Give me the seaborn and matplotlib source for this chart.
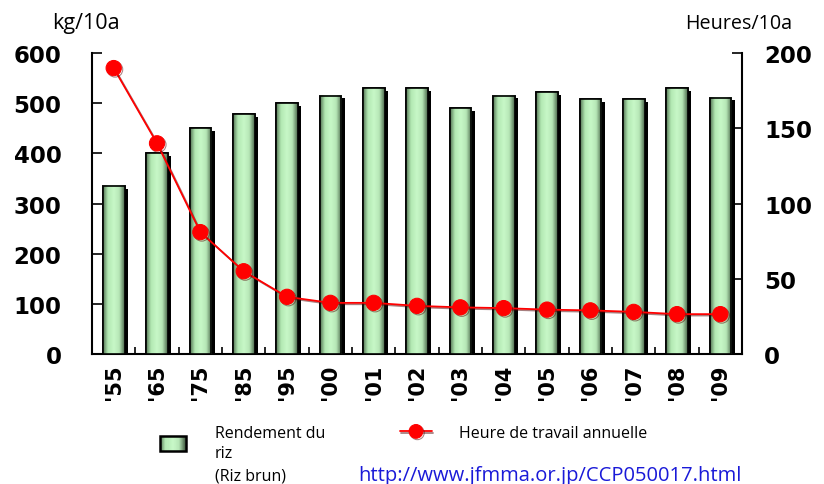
import numpy as np
import pandas as pd
import matplotlib
matplotlib.use("Agg")
import matplotlib.pyplot as plt
import seaborn as sns
import matplotlib.patheffects as pe
from matplotlib.patches import Rectangle
from matplotlib.colors import LinearSegmentedColormap
from matplotlib.legend_handler import HandlerBase

# Rice yield (kg/10a) and annual working hours (hours/10a)
years = ["'55", "'65", "'75", "'85", "'95", "'00", "'01", "'02",
         "'03", "'04", "'05", "'06", "'07", "'08", "'09"]
rice_yield = [335, 400, 450, 478, 500, 515, 530, 530,
              490, 515, 522, 508, 508, 530, 511]
work_hours = [190, 140, 81, 55, 38, 34, 34, 32,
              31, 30.5, 29.5, 29, 28, 26.5, 26.5]
left_ticks = [0, 100, 200, 300, 400, 500, 600]
right_ticks = [0, 50, 100, 150, 200]

sns.set_theme(style="white")
plt.rcParams["font.family"] = ["DejaVu Sans"]
plt.rcParams["text.color"] = "black"
TXT = "Open Sans"

bar_cmap = LinearSegmentedColormap.from_list(
    "bar_green",
    [(0.0, "#557555"), (0.22, "#b2e8b2"), (0.5, "#c8f8c8"),
     (0.75, "#b6e6b6"), (1.0, "#4a664a")])

df = pd.DataFrame({"year": years, "yield": rice_yield, "hours": work_hours})

fig = plt.figure(figsize=(8.24, 4.85), dpi=100)
ax = fig.add_axes([0.1117, 0.268, 0.7888, 0.6206])

sns.barplot(data=df, x="year", y="yield", ax=ax, width=0.5,
            color="#c8f5c8", edgecolor="black", linewidth=1.2, zorder=2)

# shaded cylinders with a drop shadow on each bar
grad = np.linspace(0, 1, 64).reshape(1, -1)
for patch in list(ax.patches):
    x, y = patch.get_x(), patch.get_y()
    w, h = patch.get_width(), patch.get_height()
    patch.set_path_effects([
        pe.SimplePatchShadow(offset=(2.5, -2), shadow_rgbFace="black", alpha=1.0),
        pe.Normal()])
    ax.imshow(grad, extent=(x, x + w, y, y + h), aspect="auto",
              cmap=bar_cmap, zorder=3, interpolation="bicubic")
    ax.add_patch(Rectangle((x, y), w, h, fill=False, edgecolor="black",
                           linewidth=1.2, zorder=4))

ax2 = ax.twinx()
sns.lineplot(data=df, x="year", y="hours", ax=ax2, sort=False,
             color="#ff0000", linewidth=1.3, marker="o", markersize=11,
             markeredgecolor="#ff0000",
             path_effects=[pe.SimpleLineShadow(offset=(1, -1),
                                               shadow_color="#500000", alpha=0.5),
                           pe.Normal()])

ax.set_xlim(-0.5, len(years) - 0.5)
ax.set_ylim(0, 600)
ax2.set_ylim(0, 200)
ax.set_yticks(left_ticks)
ax2.set_yticks(right_ticks)
ax.set_xticks(range(len(years)))
ax.set_xticklabels(years)
ax.set_xticks(np.arange(0.5, len(years) - 1, 1.0), minor=True)

ax.tick_params(axis="x", which="major", length=0, pad=7, labelsize=15,
               labelrotation=90, colors="black")
ax.tick_params(axis="x", which="minor", direction="in", length=5,
               width=1.2, bottom=True, color="black")
ax.tick_params(axis="y", direction="in", length=7, width=1.2, pad=22,
               labelsize=16.5, left=True, colors="black")
ax2.tick_params(axis="y", direction="in", length=7, width=1.2, pad=16,
                labelsize=16.5, right=True, colors="black")
for lab in ax.get_xticklabels() + ax.get_yticklabels() + ax2.get_yticklabels():
    lab.set_fontweight("bold")

ax.set_xlabel("")
ax.set_ylabel("")
ax2.set_xlabel("")
ax2.set_ylabel("")

for a in (ax, ax2):
    a.spines["top"].set_visible(False)
    for s in a.spines.values():
        s.set_color("black")
        s.set_linewidth(1.5)
ax.spines["right"].set_visible(False)
ax2.spines["left"].set_visible(False)
ax2.spines["bottom"].set_visible(False)

fig.text(52 / 824, 1 - 29 / 485, "kg/10a", fontsize=15.5, family=TXT,
         color="black", va="baseline", ha="left")
fig.text(685 / 824, 1 - 29 / 485, "Heures/10a", fontsize=14.2, family=TXT,
         color="black", va="baseline", ha="left")


class GradientBoxHandler(HandlerBase):
    def create_artists(self, legend, orig_handle, xdescent, ydescent,
                       width, height, fontsize, trans):
        n = 24
        x0, y0 = -xdescent, -ydescent
        arts = []
        for i in range(n):
            arts.append(Rectangle((x0 + i * width / n, y0), width / n, height,
                                  facecolor=bar_cmap((i + 0.5) / n),
                                  edgecolor="none", transform=trans))
        arts.append(Rectangle((x0, y0), width, height, fill=False,
                              edgecolor="black", linewidth=1.8, transform=trans))
        return arts


box_handle = Rectangle((0, 0), 1, 1)
leg1 = fig.legend(handles=[box_handle], labels=["Rendement du\nriz"],
                  handler_map={Rectangle: GradientBoxHandler()},
                  loc="upper left", bbox_to_anchor=(160 / 824, 1 - 426 / 485),
                  frameon=False, borderpad=0, borderaxespad=0,
                  handlelength=1.6, handleheight=1.05, handletextpad=1.85,
                  labelcolor="black", prop={"family": TXT, "size": 11.5})
for t in leg1.get_texts():
    t.set_linespacing(1.35)
fig.legend(handles=[ax2.lines[0]], labels=["Heure de travail annuelle"],
           loc="upper left", bbox_to_anchor=(400 / 824, 1 - 426 / 485),
           frameon=False, borderpad=0, borderaxespad=0, numpoints=1,
           handlelength=2.0, handletextpad=1.7, markerscale=0.9,
           labelcolor="black", prop={"family": TXT, "size": 11.5})

fig.text(215 / 824, 1 - 481 / 485, "(Riz brun)", fontsize=11.5, family=TXT,
         color="black", va="baseline", ha="left")
fig.text(358 / 824, 1 - 481 / 485, "http://www.jfmma.or.jp/CCP050017.html",
         fontsize=14.5, family=TXT, color="#1a1ad8", va="baseline", ha="left")

fig.savefig("out.png", dpi=100)
